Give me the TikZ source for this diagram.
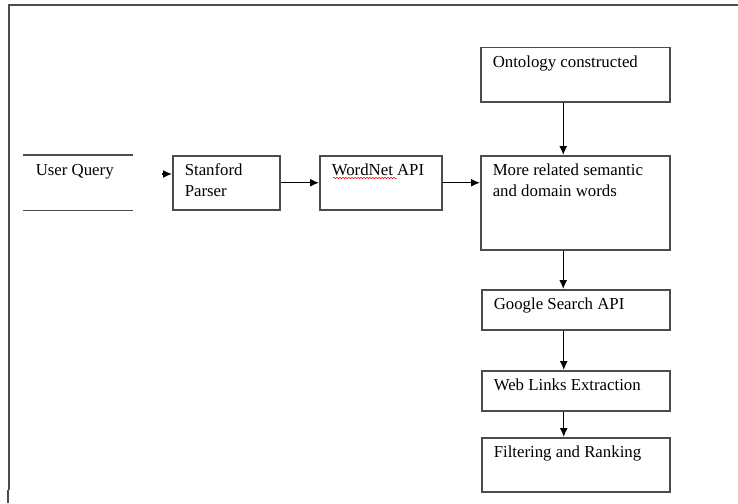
\documentclass[tikz,border=0pt]{standalone}
\usepackage{fontspec}
\setmainfont{Liberation Serif}
\usetikzlibrary{arrows.meta,decorations.pathmorphing}
\newcommand{\boxtext}[3]{\parbox[t][#2][t]{#1}{\raggedright\strut #3}}
\begin{document}
\begin{tikzpicture}[x=1pt,y=-1pt]
        \tikzstyle{stepbox}=[draw=black!70,line width=1.5pt,anchor=north west,inner xsep=12pt,inner ysep=5pt,font=\fontsize{16.8}{21}\selectfont]
        \tikzstyle{edge}=[draw,line width=1.4pt,-{Latex[length=9pt,width=8pt]}]
        \useasboundingbox (0,0) rectangle (738,503);
        % frame
        \draw[line width=1.6pt,black!70] (738,5) -- (9,5) -- (9,490);
        \draw[line width=1.6pt,black!70] (8,490) -- (8,503);
        % user query
        \node [stepbox,draw=none] (query) at (23,155) {\boxtext{84pt}{44pt}{User Query}};
        \draw[line width=1.5pt,black!70] (query.north west) -- (query.north east);
        \draw[line width=1.5pt,black!70] (query.south west) -- (query.south east);
        % boxes
        \node [stepbox] (parser) at (172,155) {\boxtext{83pt}{44pt}{Stanford\\Parser}};
        \node [stepbox] (wordnet) at (319,155) {\boxtext{98pt}{44pt}{WordNet API}};
        \node [stepbox] (onto) at (480,47) {\boxtext{165pt}{44pt}{Ontology constructed}};
        \node [stepbox] (related) at (480,155) {\boxtext{165pt}{84pt}{More related semantic\\and domain words}};
        \node [stepbox] (google) at (481,289) {\boxtext{164pt}{30pt}{Google Search API}};
        \node [stepbox] (links) at (481,370) {\boxtext{164pt}{30pt}{Web Links Extraction}};
        \node [stepbox] (rank) at (481,437) {\boxtext{164pt}{44pt}{Filtering and Ranking}};
        \draw[red,line width=0.5pt,decorate,decoration={snake,amplitude=0.8pt,segment length=3pt}]
           ([shift={(14,23)}]wordnet.north west) -- ++(64,0);
        % connectors
        \coordinate (qin) at (162,174);
        \path[edge] (qin) -- (qin -| parser.west);
        \path[edge] (parser) -- (wordnet);
        \path[edge] (wordnet.east) -- (wordnet.east -| related.west);
        \path[edge] ([xshift=-12pt]onto.south) -- ([xshift=-12pt]related.north);
        \path[edge] ([xshift=-12pt]related.south) -- ([xshift=-12pt]related.south |- google.north);
        \path[edge] ([xshift=-12pt]google.south) -- ([xshift=-12pt]google.south |- links.north);
        \path[edge] ([xshift=-12pt]links.south) -- ([xshift=-12pt]links.south |- rank.north);
\end{tikzpicture}
\end{document}
